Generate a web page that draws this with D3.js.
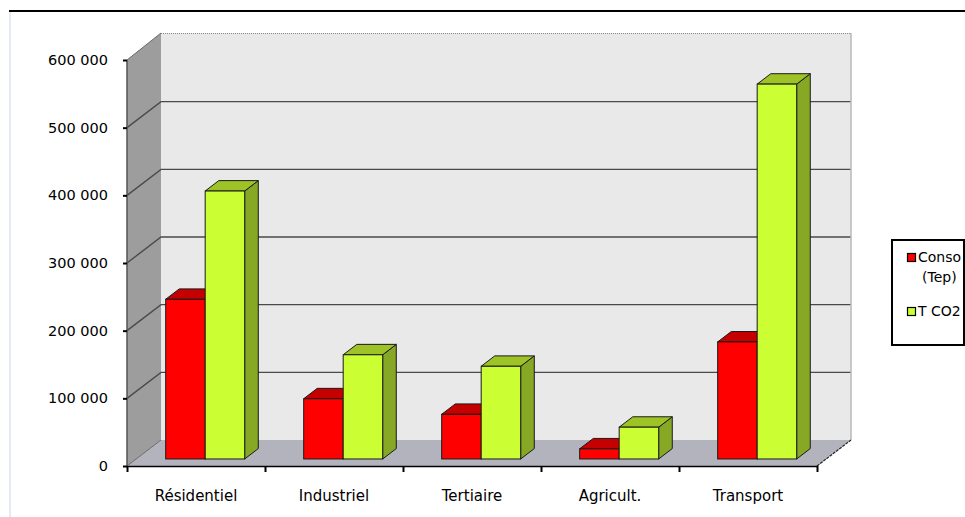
<!DOCTYPE html>
<html>
<head>
  <meta charset="utf-8">
  <script src="https://d3js.org/d3.v7.min.js"></script>
  <style>
    body { margin: 0; background: #fff; }
    text { font-family: "DejaVu Sans", Verdana, sans-serif; fill: #000; }
  </style>
</head>
<body>
<div id="chart"></div>
<script>
  // chart values
  var categories = ["Résidentiel", "Industriel", "Tertiaire", "Agricult.", "Transport"];
  var conso = [236000, 89000, 66000, 15000, 173000];
  var tco2 = [396000, 154000, 137000, 47000, 554000];
  var seriesNames = ["Conso", "T CO2"];
  var yTicks = [0, 100000, 200000, 300000, 400000, 500000, 600000];

  var W = 965, H = 517;
  // front plane of the plot and depth of the 3D box
  // (plotTop, not "top": window.top can't be overwritten)
  var plotLeft = 127, plotRight = 817, plotBottom = 466, plotTop = 60;
  var DX = 34, DY = 26;
  var f0 = 0.27, fb = 0.4;   // bars start at f0 of the depth and are fb deep

  var svg = d3.select("#chart").append("svg")
      .attr("width", W).attr("height", H);

  // page border lines
  svg.append("line").attr("x1", 9).attr("x2", W).attr("y1", 11).attr("y2", 11)
      .attr("stroke", "#000").attr("stroke-width", 2.2);
  svg.append("line").attr("x1", 10).attr("x2", 10).attr("y1", 12).attr("y2", H)
      .attr("stroke", "#c9d6e3").attr("stroke-width", 1);

  var y = d3.scaleLinear().domain([0, 600000]).range([plotBottom, plotTop]);
  var x0 = d3.scaleBand().domain(categories).range([plotLeft, plotRight])
      .paddingInner(0.4275).paddingOuter(0.2138);
  var x1 = d3.scaleBand().domain(seriesNames).range([0, x0.bandwidth()]);
  var xEdge = d3.scaleLinear().domain([0, categories.length]).range([plotLeft, plotRight]);

  var fr = d3.formatLocale({decimal: ",", thousands: " ", grouping: [3], currency: ["", ""]}).format(",d");

  // walls
  var back = svg.append("g");
  back.append("polygon")
      .attr("points", [[plotLeft, plotTop], [plotLeft + DX, plotTop - DY - 1], [plotLeft + DX, plotBottom - DY], [plotLeft, plotBottom]].join(" "))
      .attr("fill", "#9d9d9d");
  back.append("rect")
      .attr("x", plotLeft + DX).attr("y", plotTop - DY - 1)
      .attr("width", plotRight - plotLeft).attr("height", plotBottom - plotTop + 1)
      .attr("fill", "#e9e9e9");
  back.append("polygon")
      .attr("points", [[plotLeft, plotBottom], [plotLeft + DX, plotBottom - DY], [plotRight + DX, plotBottom - DY], [plotRight, plotBottom]].join(" "))
      .attr("fill", "#b3b3bd");

  // gridlines on the side wall and back wall
  var grid = back.selectAll(".grid").data(yTicks.slice(1, -1)).enter().append("g");
  grid.append("path")
      .attr("d", function(d) {
        return "M" + plotLeft + "," + y(d) + "L" + (plotLeft + DX) + "," + (y(d) - DY) + "H" + (plotRight + DX);
      })
      .attr("fill", "none").attr("stroke", "#4a4a4a").attr("stroke-width", 1.4);
  back.append("line")
      .attr("x1", plotLeft + DX).attr("x2", plotRight + DX).attr("y1", plotTop - DY - 0.5).attr("y2", plotTop - DY - 0.5)
      .attr("stroke", "#8a8a8a").attr("stroke-width", 1).attr("stroke-dasharray", "1,1");
  back.append("line")
      .attr("x1", plotLeft).attr("x2", plotLeft + DX).attr("y1", plotTop).attr("y2", plotTop - DY - 1)
      .attr("stroke", "#6a6a6a").attr("stroke-width", 1);
  back.append("line")
      .attr("x1", plotRight + DX).attr("x2", plotRight + DX).attr("y1", plotTop - DY - 1).attr("y2", plotBottom - DY)
      .attr("stroke", "#b8b8b8").attr("stroke-width", 1.5);
  back.append("line")
      .attr("x1", plotLeft).attr("x2", plotLeft + DX).attr("y1", plotBottom).attr("y2", plotBottom - DY)
      .attr("stroke", "#6a6a6a").attr("stroke-width", 1);
  back.append("line")
      .attr("x1", plotRight).attr("x2", plotRight + DX).attr("y1", plotBottom).attr("y2", plotBottom - DY)
      .attr("stroke", "#222").attr("stroke-width", 1.2).attr("stroke-dasharray", "3,1");
  back.append("line")
      .attr("x1", plotLeft).attr("x2", plotLeft).attr("y1", plotTop).attr("y2", plotBottom)
      .attr("stroke", "#555").attr("stroke-width", 1.5);

  // bars
  var bx = DX * f0, by = DY * f0, ddx = DX * fb, ddy = DY * fb;
  var colors = {
    "Conso": {front: "#ff0000", top: "#c40000", side: "#a80000"},
    "T CO2": {front: "#ccff33", top: "#9ec326", side: "#86a824"}
  };
  var rows = categories.map(function(c, i) {
    return {cat: c, values: [{s: "Conso", v: conso[i]}, {s: "T CO2", v: tco2[i]}]};
  });

  var groups = svg.append("g").selectAll("g").data(rows).enter().append("g");
  groups.each(function(r) {
    var g = d3.select(this);
    r.values.forEach(function(d) {
      var xl = x0(r.cat) + x1(d.s) + bx, w = x1.bandwidth();
      var yt = y(d.v) - by, yb = y(0) - by;
      var c = colors[d.s];
      g.append("polygon")
          .attr("points", [[xl + w, yt], [xl + w + ddx, yt - ddy], [xl + w + ddx, yb - ddy], [xl + w, yb]].join(" "))
          .attr("fill", c.side).attr("stroke", "#1a1a1a").attr("stroke-width", 1).attr("stroke-linejoin", "round");
      g.append("polygon")
          .attr("points", [[xl, yt], [xl + ddx, yt - ddy], [xl + w + ddx, yt - ddy], [xl + w, yt]].join(" "))
          .attr("fill", c.top).attr("stroke", "#1a1a1a").attr("stroke-width", 1).attr("stroke-linejoin", "round");
      g.append("rect")
          .attr("x", xl).attr("y", yt).attr("width", w).attr("height", yb - yt)
          .attr("fill", c.front).attr("stroke", "#1a1a1a").attr("stroke-width", 1);
    });
  });

  // y axis
  var yAxis = svg.append("g")
      .attr("transform", "translate(" + plotLeft + ",0)")
      .call(d3.axisLeft(y).tickValues(yTicks).tickFormat(fr).tickSize(4).tickPadding(15));
  yAxis.select(".domain").remove();
  yAxis.selectAll(".tick line").attr("stroke", "#000").attr("stroke-width", 2);
  yAxis.selectAll("text").style("font-size", "14.5px").attr("fill", "#000");

  // x axis: boundary ticks plus centred labels
  var xAxis = svg.append("g")
      .attr("transform", "translate(0," + plotBottom + ")")
      .call(d3.axisBottom(xEdge).tickValues(d3.range(categories.length + 1)).tickFormat("").tickSize(6).tickSizeOuter(0));
  xAxis.select(".domain").attr("stroke", "#000").attr("stroke-width", 1.5);
  xAxis.selectAll(".tick line").attr("stroke", "#000").attr("stroke-width", 2);

  svg.append("g").selectAll("text").data(categories).enter().append("text")
      .attr("x", function(d) { return x0(d) + x0.bandwidth() / 2; })
      .attr("y", 501)
      .attr("text-anchor", "middle")
      .style("font-size", "15px")
      .text(function(d) { return d; });

  // legend
  var lg = svg.append("g");
  lg.append("rect").attr("x", 892).attr("y", 240).attr("width", 72).attr("height", 105)
      .attr("fill", "#fff").attr("stroke", "#000").attr("stroke-width", 2);
  var legendRows = [
    {s: "Conso", y: 253, lines: ["Conso", "(Tep)"]},
    {s: "T CO2", y: 307, lines: ["T CO2"]}
  ];
  legendRows.forEach(function(d) {
    lg.append("rect").attr("x", 907.5).attr("y", d.y + 0.5).attr("width", 8).attr("height", 8)
        .attr("fill", colors[d.s].front).attr("stroke", "#000").attr("stroke-width", 1.2);
    d.lines.forEach(function(t, i) {
      lg.append("text").attr("x", i === 0 ? 918 : 922).attr("y", d.y + 9 + i * 20)
          .style("font-size", "14px").text(t);
    });
  });
</script>
</body>
</html>
